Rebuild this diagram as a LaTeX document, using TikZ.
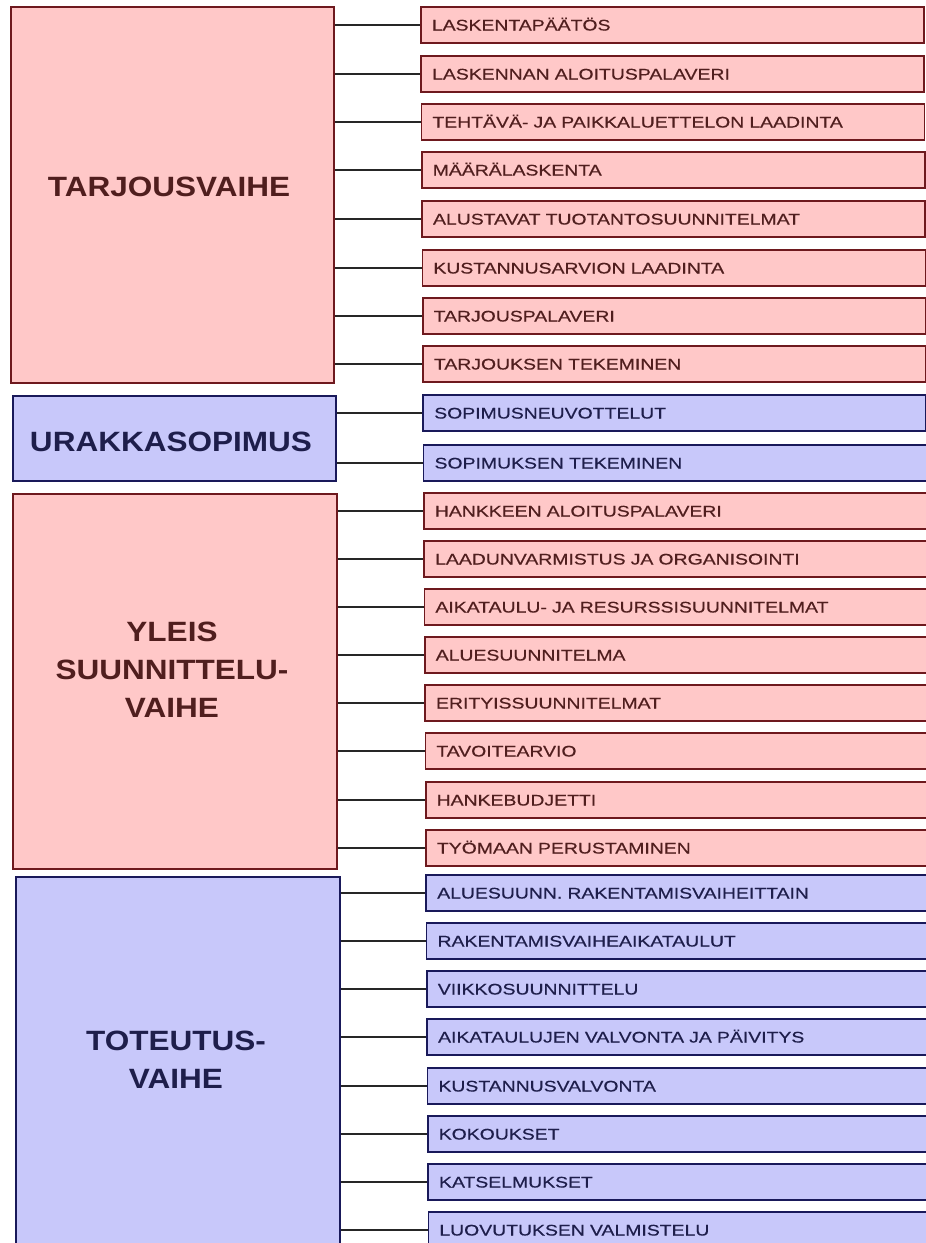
\documentclass[tikz,border=0pt]{standalone}
\usepackage{fontspec}
\setmainfont{Liberation Sans}
\newfontfamily\phasefont[FakeStretch=1.13]{Liberation Sans}
\newfontfamily\itemfont[FakeStretch=1.26,FakeBold=0.5]{Liberation Sans}

\definecolor{pinkfill}{RGB}{255,200,200}
\definecolor{pinkline}{RGB}{110,25,30}
\definecolor{pinktext}{RGB}{80,30,30}
\definecolor{bluefill}{RGB}{200,200,250}
\definecolor{blueline}{RGB}{25,25,90}
\definecolor{bluetext}{RGB}{30,30,75}

\begin{document}
\begin{tikzpicture}[x=1pt, y=-1pt,
  phasebox/.style={draw, line width=1.9pt, inner sep=0pt},
  phasetext/.style={inner sep=0pt, align=center,
    font=\phasefont\bfseries\fontsize{27.9}{38}\selectfont},
  itembox/.style={draw, line width=1.7pt, anchor=west, inner xsep=11pt,
    inner ysep=0pt, text width=481pt, align=left,
    minimum height=36pt, text height=11pt, text depth=0pt,
    font=\itemfont\fontsize{15.4}{18}\selectfont},
  itempink/.style={itembox, fill=pinkfill, draw=pinkline, text=pinktext},
  itemblue/.style={itembox, fill=bluefill, draw=blueline, text=bluetext},
  link/.style={line width=1.3pt, black!85}]

\useasboundingbox (0,0) rectangle (926,1243);
\clip (0,0) rectangle (926,1243);

% =====================================================================
% Phase boxes (left column), pixel coordinates of the scan
% =====================================================================

% TARJOUSVAIHE   x=11..334   y=7..383
\node[phasebox, fill=pinkfill, draw=pinkline,
  minimum width=323, minimum height=376] (tarjous) at (172.5,195) {};
\node[phasetext, text=pinktext] (tarjous-txt) at (169,187) {TARJOUSVAIHE};

% URAKKASOPIMUS   x=13..336   y=396..481
\node[phasebox, fill=bluefill, draw=blueline,
  minimum width=323, minimum height=85] (urakka) at (174.5,438.5) {};
\node[phasetext, text=bluetext] (urakka-txt) at (171,442) {URAKKASOPIMUS};

% YLEISSUUNNITTELUVAIHE   x=13..337   y=494..869
\node[phasebox, fill=pinkfill, draw=pinkline,
  minimum width=324, minimum height=375] (yleis) at (175,681.5) {};
\node[phasetext, text=pinktext] (yleis-txt) at (172,670)
  {YLEIS\\SUUNNITTELU-\\VAIHE};

% TOTEUTUSVAIHE   x=16..340   y=877..(below page)
\node[phasebox, fill=bluefill, draw=blueline,
  minimum width=324, minimum height=390] (toteutus) at (178,1072) {};
\node[phasetext, text=bluetext] (toteutus-txt) at (176,1060)
  {TOTEUTUS-\\VAIHE};

% =====================================================================
% Task boxes (right column) and their links to the phase boxes
% row / centre y / phase / colour / text
% left edge drifts 0.3 px per row (scan skew)
% =====================================================================
\foreach \i/\yc/\ph/\col/\txt in {
   1/25/tarjous/pink/LASKENTAPÄÄTÖS,
   2/74/tarjous/pink/LASKENNAN ALOITUSPALAVERI,
   3/122/tarjous/pink/TEHTÄVÄ- JA PAIKKALUETTELON LAADINTA,
   4/170/tarjous/pink/MÄÄRÄLASKENTA,
   5/219/tarjous/pink/ALUSTAVAT TUOTANTOSUUNNITELMAT,
   6/268/tarjous/pink/KUSTANNUSARVION LAADINTA,
   7/316/tarjous/pink/TARJOUSPALAVERI,
   8/364/tarjous/pink/TARJOUKSEN TEKEMINEN,
   9/413/urakka/blue/SOPIMUSNEUVOTTELUT,
  10/463/urakka/blue/SOPIMUKSEN TEKEMINEN,
  11/511/yleis/pink/HANKKEEN ALOITUSPALAVERI,
  12/559/yleis/pink/LAADUNVARMISTUS JA ORGANISOINTI,
  13/607/yleis/pink/AIKATAULU- JA RESURSSISUUNNITELMAT,
  14/655/yleis/pink/ALUESUUNNITELMA,
  15/703/yleis/pink/ERITYISSUUNNITELMAT,
  16/751/yleis/pink/TAVOITEARVIO,
  17/800/yleis/pink/HANKEBUDJETTI,
  18/848/yleis/pink/TYÖMAAN PERUSTAMINEN,
  19/893/toteutus/blue/ALUESUUNN. RAKENTAMISVAIHEITTAIN,
  20/941/toteutus/blue/RAKENTAMISVAIHEAIKATAULUT,
  21/989/toteutus/blue/VIIKKOSUUNNITTELU,
  22/1037/toteutus/blue/AIKATAULUJEN VALVONTA JA PÄIVITYS,
  23/1086/toteutus/blue/KUSTANNUSVALVONTA,
  24/1134/toteutus/blue/KOKOUKSET,
  25/1182/toteutus/blue/KATSELMUKSET,
  26/1230/toteutus/blue/LUOVUTUKSEN VALMISTELU}{
  \pgfmathsetmacro{\xl}{420+0.3*(\i-1)}
  \node[item\col] (s\i) at (\xl,\yc) {\txt};
  \draw[link] (\ph.east |- s\i.west) -- (s\i.west);
}

\end{tikzpicture}
\end{document}
